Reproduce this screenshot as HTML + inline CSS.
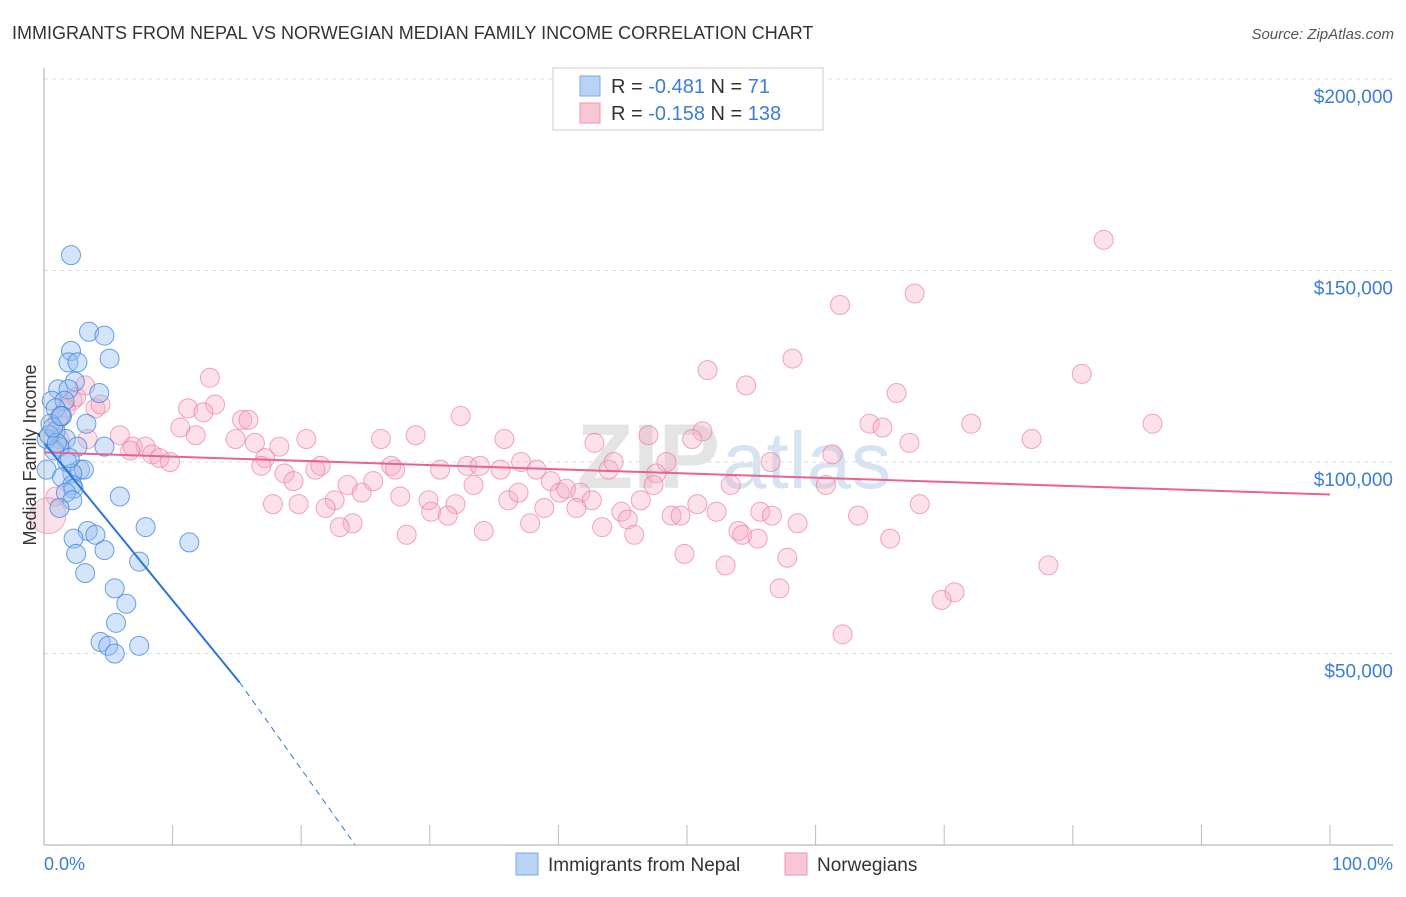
<!DOCTYPE html>
<html><head><meta charset="utf-8"><style>
body{margin:0;background:#fff;font-family:"Liberation Sans",sans-serif}
svg text{font-family:"Liberation Sans",sans-serif}
</style></head><body>
<svg width="1406" height="892" viewBox="0 0 1406 892">
<text x="12" y="39" font-size="18" fill="#333">IMMIGRANTS FROM NEPAL VS NORWEGIAN MEDIAN FAMILY INCOME CORRELATION CHART</text>
<text x="1394" y="39" font-size="15" fill="#555" font-style="italic" text-anchor="end">Source: ZipAtlas.com</text>
<g id="grid"></g>
<text x="720" y="488" font-size="92" font-weight="bold" fill="#e4e4e4" text-anchor="end" font-family="Liberation Serif">ZIP</text>
<text x="722" y="488" font-size="80" fill="#d6e3f3">atlas</text>
<g id="pts"></g>
<g id="trend"></g>
<line x1="44" y1="68" x2="44" y2="845" stroke="#aaa"/>
<line x1="44" y1="845" x2="1393" y2="845" stroke="#aaa"/>
<text x="36" y="455" font-size="18" fill="#333" text-anchor="middle" transform="rotate(-90 36 455)">Median Family Income</text>
<text x="44" y="870" font-size="18" fill="#3b7dd8">0.0%</text>
<text x="1393" y="870" font-size="18" fill="#3b7dd8" text-anchor="end">100.0%</text>
<g>
<rect x="553" y="68" width="270" height="62" fill="#fff" stroke="#ccc"/>
<rect x="580" y="76" width="20" height="20" fill="#b9d3f5" stroke="#7aa8e6"/>
<rect x="580" y="103" width="20" height="20" fill="#f9c6d6" stroke="#ee97b3"/>
<text x="611" y="93" font-size="20" fill="#333">R = <tspan fill="#3b7dd8">-0.481</tspan>   N = <tspan fill="#3b7dd8">  71</tspan></text>
<text x="611" y="120" font-size="20" fill="#333">R = <tspan fill="#3b7dd8">-0.158</tspan>   N = <tspan fill="#3b7dd8">138</tspan></text>
</g>
<g>
<rect x="516" y="853" width="22" height="22" fill="#b9d3f5" stroke="#7aa8e6"/>
<text x="548" y="871" font-size="19" fill="#333">Immigrants from Nepal</text>
<rect x="785" y="853" width="22" height="22" fill="#f9c6d6" stroke="#ee97b3"/>
<text x="817" y="871" font-size="19" fill="#333">Norwegians</text>
</g>
</svg>
<script>
const yTicks=[50,100,150,200];
const yTickLabels=["$50,000","$100,000","$150,000","$200,000"];
const xTicks=[0,10,20,30,40,50,60,70,80,90,100];
const nepalX=[2.1,3.5,4.7,2.1,1.9,2.6,5.1,4.3,2.4,1.1,1.9,0.6,1.6,0.9,1.4,0.5,3.3,0.9,0.2,1.7,2.6,1.2,0.8,4.7,1.8,2.8,3.1,0.2,2.2,1.4,2.2,2.3,1.7,2.2,1.2,5.9,7.9,3.4,2.3,4,11.3,2.5,4.7,7.4,3.2,5.5,6.4,5.6,4.4,5,5.5,7.4,0.4,1.0,0.7,1.3,2.0];
const nepalY=[154,134,133,129,126,126,127,118,121,119,119,116,116,114,112,110,110,108,106,106,104,104,103,104,100,98,98,98,97,96,94,93,92,90,88,91,83,82,80,81,79,76,77,74,71,67,63,58,53,52,50,52,107,105,109,112,101];
const norX=[82.4,67.7,61.9,58.2,51.6,80.7,54.6,12.9,66.3,32.4,86.2,72.1,64.2,65.2,51.2,47,76.8,67.3,50.4,42.8,35.8,28.9,26.2,20.4,13.3,11.2,15.4,15.9,12.4,10.6,11.8,14.9,16.4,18.3,17.2,16.9,21.5,21.1,18.7,19.4,23.6,25.6,24.7,22.6,27,27.3,30.8,32.9,33.9,35.5,37.1,38.3,43.9,44.3,48.4,47.6,56.5,61.3,60.8,53.4,47.4,39.4,33.4,27.7,29.9,32,30.1,31.4,34.2,28.2,21.9,24,23,19.8,17.8,40.1,40.6,41.7,42.6,36.1,36.9,41.4,38.9,37.8,43.4,44.9,45.4,45.9,46.4,48.8,49.5,50.8,52.3,54,54.3,55.7,56.6,58.6,55.5,57.8,49.8,53,57.2,62.1,65.8,63.3,68.1,69.8,70.8,78.1,5.9,6.9,7.9,8.4,9,9.8,6.7,4,3.4,4.4,2.2,2.5,1.7,1.1,0.9,3.2,1.2];
const norY=[158,144,141,127,124,123,120,122,118,112,110,110,110,109,108,107,106,105,106,105,106,107,106,106,115,114,111,111,113,109,107,106,105,104,101,99,99,98,97,95,94,95,92,90,99,98,98,99,99,98,100,98,98,100,100,97,100,102,94,94,94,95,94,91,90,89,87,86,82,81,88,84,83,89,89,92,93,92,90,90,92,88,88,84,83,87,85,81,90,86,86,89,87,82,81,87,86,84,80,75,76,73,67,55,80,86,89,64,66,73,107,104,104,102,101,100,103,114,106,115,116,117,114,111,91,120,106];
const X=v=>44+v*12.86, Y=v=>845-v*3.83;
const NS="http://www.w3.org/2000/svg";
const g=document.getElementById('grid');
yTicks.forEach((t,i)=>{
 const l=document.createElementNS(NS,'line');
 
 
 l.setAttribute('x1',44);l.setAttribute('x2',1393);l.setAttribute('y1',Y(t));l.setAttribute('y2',Y(t));
 l.setAttribute('stroke','#ddd');l.setAttribute('stroke-dasharray','4,4');g.appendChild(l);
 const tx=document.createElementNS(NS,'text');
 
 
 tx.setAttribute('x',1393);tx.setAttribute('y',Y(t)+24);tx.setAttribute('text-anchor','end');
 tx.setAttribute('font-size','19');tx.setAttribute('fill','#3b7dd8');tx.textContent=yTickLabels[i];g.appendChild(tx);
});
xTicks.forEach(t=>{
 const l=document.createElementNS(NS,'line');
 
 
 l.setAttribute('x1',X(t));l.setAttribute('x2',X(t));l.setAttribute('y1',825);l.setAttribute('y2',845);
 l.setAttribute('stroke','#bbb');g.appendChild(l);
});
const p=document.getElementById('pts');
function dot(x,y,fill,stroke,name,r){
 const c=document.createElementNS(NS,'circle');
 
 
 c.setAttribute('cx',X(x));c.setAttribute('cy',Y(y));c.setAttribute('r',r||9.5);
 c.setAttribute('fill',fill);c.setAttribute('stroke',stroke);c.setAttribute('stroke-width','1');p.appendChild(c);
}
norX.forEach((x,i)=>dot(x,norY[i],'rgba(246,170,196,0.35)','rgba(232,130,165,0.7)','norwegians-point',i==norX.length-1?9.5:9.5));
dot(0.3,86,'rgba(246,170,196,0.35)','rgba(232,130,165,0.6)','norwegians-point',18);
nepalX.forEach((x,i)=>dot(x,nepalY[i],'rgba(150,190,240,0.4)','rgba(60,130,220,0.75)','nepal-point'));
const tr=document.getElementById('trend');
function line(x1,y1,x2,y2,col,name,dash,w){
 const l=document.createElementNS(NS,'line');
 
 
 l.setAttribute('x1',X(x1));l.setAttribute('y1',Y(y1));l.setAttribute('x2',X(x2));l.setAttribute('y2',Y(y2));
 l.setAttribute('stroke',col);l.setAttribute('stroke-width',w||2);if(dash)l.setAttribute('stroke-dasharray',dash);tr.appendChild(l);
}
line(0,102.5,100,91.5,'#e8638f','norwegians-trendline');
line(0,105,15.2,42.5,'#2f74d6','nepal-trendline');
line(15.2,42.5,24.2,0,'#2f74d6','nepal-trendline-extension','6,5',1);
</script>
</body></html>
